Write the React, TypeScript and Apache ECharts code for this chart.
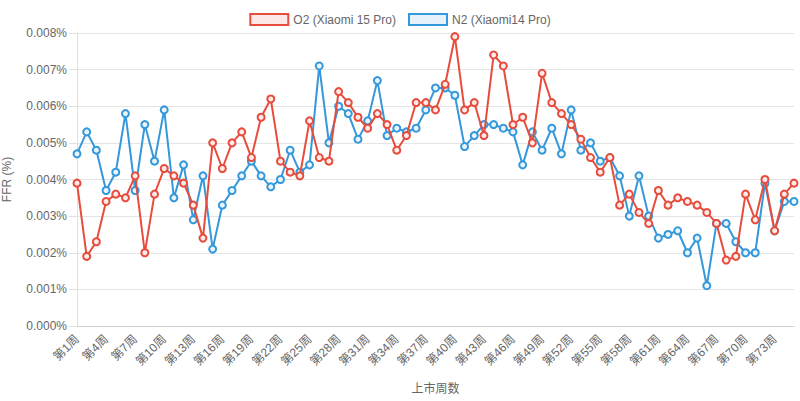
import React, { useEffect, useRef } from "react";
import * as echarts from "echarts";

const weeks: string[] = Array.from({ length: 75 }, (_, i) => `第${i + 1}周`);

const o2Values: number[] = [
  0.0039, 0.0019, 0.0023, 0.0034, 0.0036, 0.0035, 0.0041, 0.002, 0.0036, 0.0043,
  0.0041, 0.0039, 0.0033, 0.0024, 0.005, 0.0043, 0.005, 0.0053, 0.0046, 0.0057,
  0.0062, 0.0045, 0.0042, 0.0041, 0.0056, 0.0046, 0.0045, 0.0064, 0.0061, 0.0057,
  0.0054, 0.0058, 0.0055, 0.0048, 0.0052, 0.0061, 0.0061, 0.0059, 0.0066, 0.0079,
  0.0059, 0.0061, 0.0052, 0.0074, 0.0071, 0.0055, 0.0057, 0.005, 0.0069, 0.0061,
  0.0058, 0.0055, 0.0051, 0.0046, 0.0042, 0.0046, 0.0033, 0.0036, 0.0031, 0.0028,
  0.0037, 0.0033, 0.0035, 0.0034, 0.0033, 0.0031, 0.0028, 0.0018, 0.0019, 0.0036,
  0.0029, 0.004, 0.0026, 0.0036, 0.0039,
];

const n2Values: number[] = [
  0.0047, 0.0053, 0.0048, 0.0037, 0.0042, 0.0058, 0.0037, 0.0055, 0.0045, 0.0059,
  0.0035, 0.0044, 0.0029, 0.0041, 0.0021, 0.0033, 0.0037, 0.0041, 0.0045, 0.0041,
  0.0038, 0.004, 0.0048, 0.0042, 0.0044, 0.0071, 0.005, 0.006, 0.0058, 0.0051,
  0.0056, 0.0067, 0.0052, 0.0054, 0.0053, 0.0054, 0.0059, 0.0065, 0.0065, 0.0063,
  0.0049, 0.0052, 0.0055, 0.0055, 0.0054, 0.0053, 0.0044, 0.0053, 0.0048, 0.0054,
  0.0047, 0.0059, 0.0048, 0.005, 0.0045, 0.0046, 0.0041, 0.003, 0.0041, 0.003,
  0.0024, 0.0025, 0.0026, 0.002, 0.0024, 0.0011, 0.0028, 0.0028, 0.0023, 0.002,
  0.002, 0.0039, 0.0026, 0.0034, 0.0034,
];

const seriesNames: string[] = ["O2 (Xiaomi 15 Pro)", "N2 (Xiaomi14 Pro)"];

const RED = "#e74c3c";
const BLUE = "#3498db";
const FONT = "'Liberation Sans', Arial, 'Noto Sans CJK SC', sans-serif";

export default function App() {
  const ref = useRef<HTMLDivElement>(null);

  useEffect(() => {
    document.body.style.margin = "0";
    if (!ref.current) return;
    const chart = echarts.init(ref.current, undefined, { renderer: "svg" });
    chart.setOption({
      animation: false,
      textStyle: { fontFamily: FONT },
      legend: {
        top: 8,
        left: "center",
        icon: "rect",
        itemWidth: 38,
        itemHeight: 11,
        itemGap: 12,
        textStyle: { color: "#666", fontSize: 12, fontFamily: FONT },
        data: [
          {
            name: seriesNames[0],
            itemStyle: { color: "rgba(231,76,60,0.12)", borderColor: RED, borderWidth: 2 },
          },
          {
            name: seriesNames[1],
            itemStyle: { color: "rgba(52,152,219,0.12)", borderColor: BLUE, borderWidth: 2 },
          },
        ],
      },
      grid: {
        left: 77,
        right: 6,
        top: 33,
        bottom: 75,
        containLabel: false,
        outerBoundsMode: "none",
      },
      xAxis: {
        type: "category",
        data: weeks,
        boundaryGap: false,
        name: "上市周数",
        nameLocation: "middle",
        nameGap: 57,
        nameTextStyle: { color: "#666", fontSize: 12, fontFamily: FONT },
        axisLine: { show: true, lineStyle: { color: "#d0d0d0" } },
        axisTick: { show: false },
        axisLabel: {
          interval: 2,
          rotate: 45,
          color: "#666",
          fontSize: 12,
          margin: 11,
          fontFamily: FONT,
        },
        splitLine: { show: false },
      },
      yAxis: {
        type: "value",
        min: 0,
        max: 0.008,
        interval: 0.001,
        name: "FFR (%)",
        nameLocation: "middle",
        nameGap: 64,
        nameTextStyle: { color: "#666", fontSize: 12, fontFamily: FONT },
        axisLine: { show: true, lineStyle: { color: "#e0e0e0" } },
        axisTick: { show: true, length: 8, lineStyle: { color: "#e0e0e0" } },
        axisLabel: {
          color: "#666",
          fontSize: 12,
          margin: 10,
          fontFamily: FONT,
          formatter: (v: number) => v.toFixed(3) + "%",
        },
        splitLine: { show: true, lineStyle: { color: "#e5e5e5" } },
      },
      series: [
        {
          name: seriesNames[0],
          type: "line",
          data: o2Values,
          symbol: "circle",
          symbolSize: 7,
          showAllSymbol: true,
          lineStyle: { color: RED, width: 2 },
          itemStyle: { color: "rgba(253,235,233,1)", borderColor: RED, borderWidth: 2 },
          z: 3,
        },
        {
          name: seriesNames[1],
          type: "line",
          data: n2Values,
          symbol: "circle",
          symbolSize: 7,
          showAllSymbol: true,
          lineStyle: { color: BLUE, width: 2 },
          itemStyle: { color: "rgba(234,244,251,1)", borderColor: BLUE, borderWidth: 2 },
          z: 2,
        },
      ],
    });
    return () => chart.dispose();
  }, []);

  return <div ref={ref} style={{ width: 800, height: 401 }} />;
}
